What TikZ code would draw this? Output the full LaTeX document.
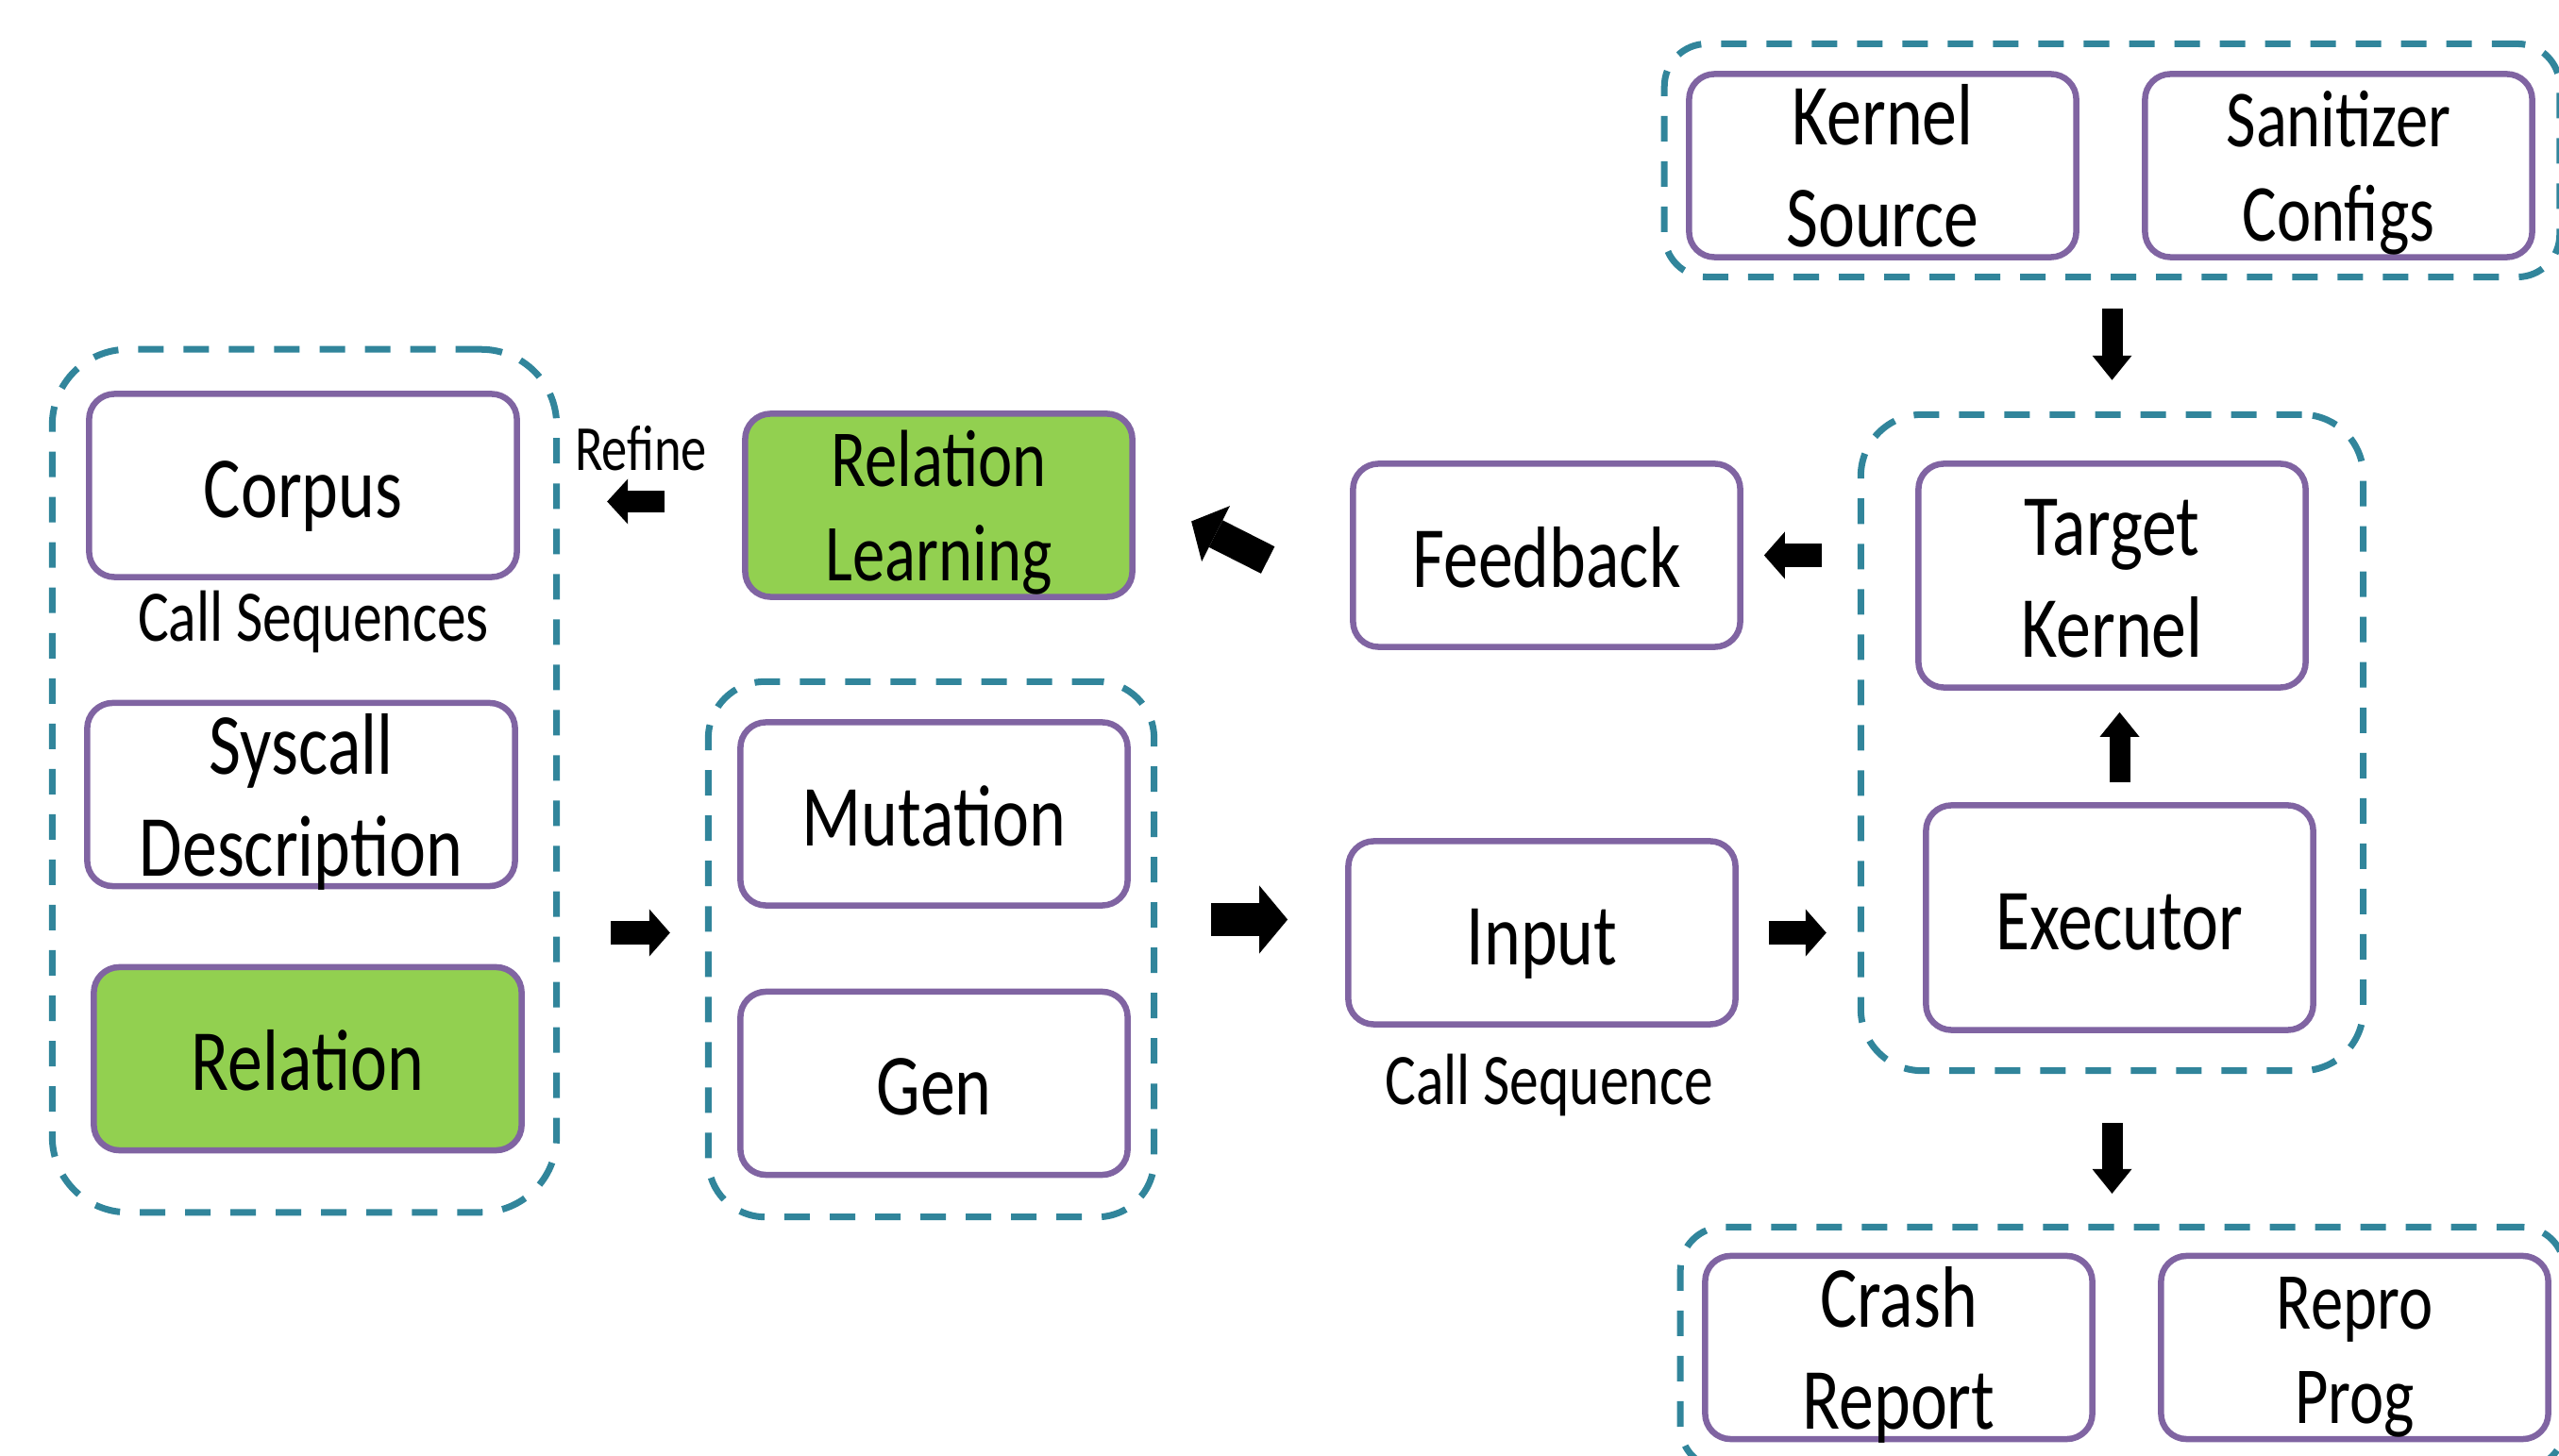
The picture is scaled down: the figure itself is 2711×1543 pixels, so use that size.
\documentclass[tikz,border=0pt]{standalone}
\usepackage{fontspec}
\setmainfont{Carlito}
\usetikzlibrary{arrows.meta,calc}
\definecolor{grpc}{RGB}{49,133,155}
\definecolor{boxc}{RGB}{128,100,162}
\definecolor{relc}{RGB}{146,208,80}
\newcommand{\tl}[1]{\scalebox{1}[1.25]{\rule[-5.7pt]{0pt}{26.7pt}#1}}
\newcommand{\tll}[2]{\scalebox{1}[1.25]{\begin{tabular}[b]{@{}c@{}}#1\\#2\end{tabular}}}
\newcommand{\lbltxt}[1]{\scalebox{1}[1.25]{#1}}
\begin{document}
\begin{tikzpicture}[x=0.01cm,y=-0.01cm,
  box/.style={draw=boxc,line width=0.065cm,rounded corners=0.27cm,minimum width=4.1cm,minimum height=1.94cm,inner sep=0pt,font=\fontsize{21}{24.5}\selectfont},
  two/.style={text height=49pt,text depth=0pt},
  small/.style={font=\fontsize{19.5}{22.7}\selectfont,text height=45.5pt,text depth=0pt},
  grp/.style={draw=grpc,line width=0.07cm,dash pattern=on 0.27cm off 0.21cm,rounded corners=#1},
  lbl/.style={inner sep=0pt,font=\fontsize{17.5}{21}\selectfont},
  fat/.style n args={3}{line width=#1,-{Triangle[length=#2,width=#3,line width=0pt]}},
  fath/.style={fat={0.25cm}{0.22cm}{0.5cm}},
  fatv/.style={fat={0.22cm}{0.26cm}{0.42cm}}]
\useasboundingbox (0,0) rectangle (2711,1543);
\clip (0,0) rectangle (2711,1543);
% dashed groups
\node[grp=0.8cm,minimum width=5.34cm,minimum height=9.14cm] (lgrp) at (322.5,827.5) {};
\node[grp=0.6cm,minimum width=4.72cm,minimum height=5.67cm] (mgrp) at (986.5,1006) {};
\node[grp=0.65cm,minimum width=5.32cm,minimum height=6.95cm] (rgrp) at (2237.5,787) {};
\node[grp=0.45cm,minimum width=9.48cm,minimum height=2.47cm] (srcgrp) at (2237.5,170) {};
\node[grp=0.45cm,minimum width=9.36cm,minimum height=2.56cm] (outgrp) at (2248.5,1428.5) {};
% boxes
\node[box,minimum width=4.53cm] (corpus) at (321,514.5) {\tl{Corpus}};
\node[box,two,minimum width=4.53cm] (syscall) at (319,842) {\tll{Syscall}{Description}};
\node[box,minimum width=4.53cm,fill=relc] (relation) at (326,1122) {\tl{Relation}};
\node[box,small,fill=relc] (relearn) at (994.5,535.5) {\tll{Relation}{Learning}};
\node[box] (mutation) at (989.5,862.5) {\tl{Mutation}};
\node[box] (gen) at (989.5,1148) {\tl{Gen}};
\node[box] (feedback) at (1638.5,588.5) {\tl{Feedback}};
\node[box] (input) at (1633.5,988.5) {\tl{Input}};
\node[box,two,minimum height=2.37cm] (tk) at (2237.5,610) {\tll{Target}{Kernel}};
\node[box,minimum height=2.38cm] (exec) at (2245.5,972.5) {\tl{Executor}};
\node[box,two] (ksrc) at (1994.5,175.5) {\tll{Kernel}{Source}};
\node[box,small] (sanit) at (2477.5,175.5) {\tll{Sanitizer}{Configs}};
\node[box,two] (crash) at (2011.5,1428) {\tll{Crash}{Report}};
\node[box,small] (repro) at (2494.5,1428) {\tll{Repro}{Prog}};
% labels
\node[lbl] (seqs) at (332,659) {\lbltxt{Call Sequences}};
\node[lbl,font=\fontsize{15.5}{19}\selectfont] (refine) at (679,475) {\lbltxt{Refine}};
\node[lbl] (seq) at (1641,1150) {\lbltxt{Call Sequence}};
% block arrows
\draw[fat={0.23cm}{0.22cm}{0.48cm},shorten <=0.82cm,shorten >=0.5cm] ($(relearn.west)+(0,-4)$) -- ($(relearn.west -| lgrp.east)+(0,-4)$);
\draw[fat={0.32cm}{0.29cm}{0.66cm}] ($(feedback.west)+(-87,5)$) -- ++(-81,-41);
\draw[fath,shorten <=0.38cm,shorten >=0.22cm] (rgrp.west |- feedback.east) -- (feedback.east);
\draw[fatv,shorten <=0.3cm,shorten >=0.33cm] (rgrp.north |- srcgrp.south) -- (rgrp.north);
\draw[fatv,shorten <=0.21cm,shorten >=0.23cm] (exec.north) -- (exec.north |- tk.south);
\draw[fatv,shorten <=0.52cm,shorten >=0.32cm] (rgrp.south) -- (rgrp.south |- outgrp.north);
\draw[fath,shorten <=0.54cm,shorten >=0.37cm] (lgrp.east |- input) -- (mgrp.west |- input);
\draw[fat={0.35cm}{0.3cm}{0.72cm},shorten <=0.57cm,shorten >=0.61cm] ($(mgrp.east |- input)+(0,-14)$) -- ($(input.west)+(0,-14)$);
\draw[fath,shorten <=0.32cm,shorten >=0.33cm] (input.east) -- (input.east -| rgrp.west);
\end{tikzpicture}
\end{document}
